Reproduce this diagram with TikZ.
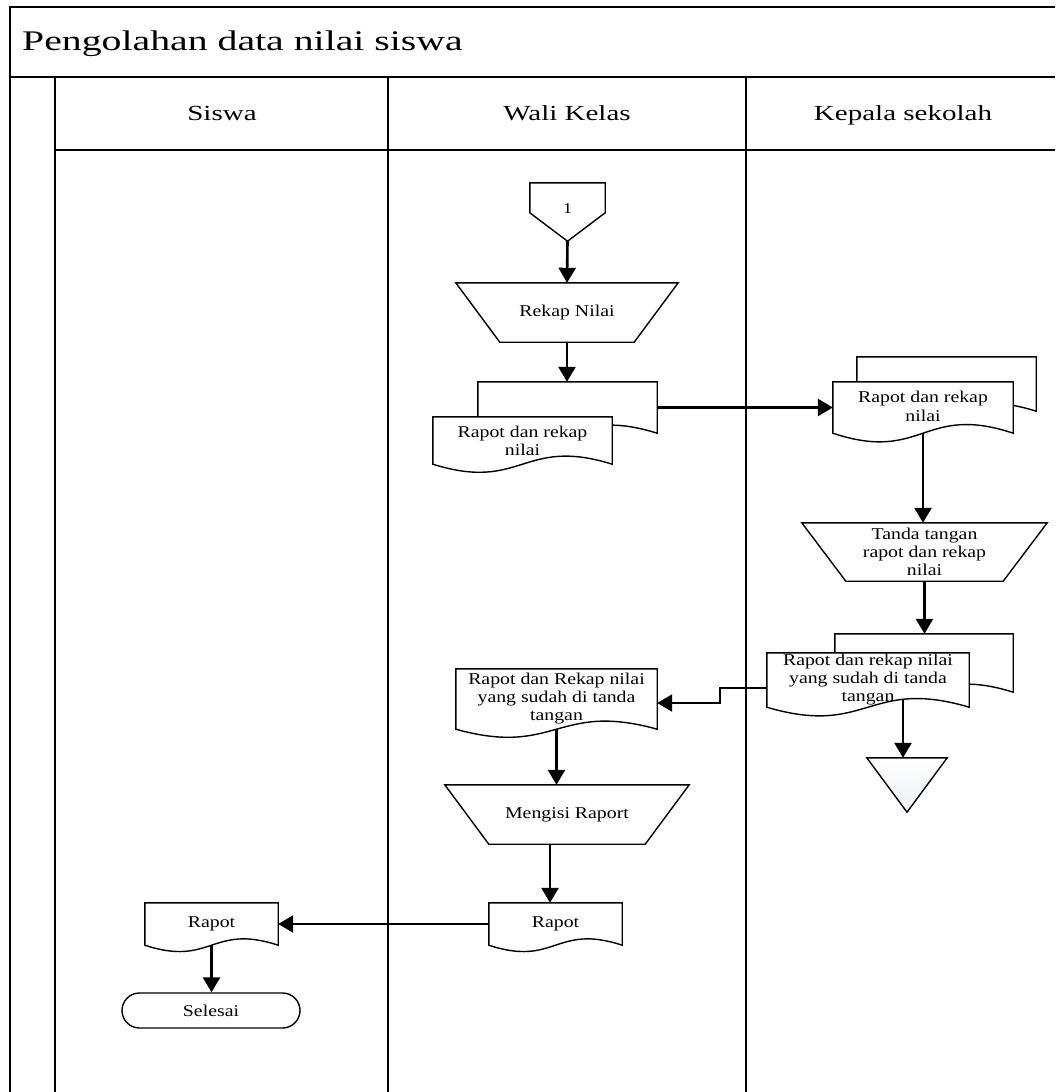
\documentclass[tikz,border=0pt]{standalone}
\usepackage{fontspec}
\setmainfont{Liberation Serif}[FakeStretch=1.2]
\newfontfamily\titlefont{Liberation Serif}[FakeStretch=1.4]
\newfontfamily\headfont{Liberation Serif}[FakeStretch=1.35]
\usetikzlibrary{arrows.meta,calc}
\pgfdeclarelayer{frame}
\pgfdeclarelayer{conn}
\pgfdeclarelayer{shapes}
\pgfsetlayers{frame,conn,shapes,main}
\newcommand\DocShape[2]{\draw[shp] (#1.north west) -- (#1.north east) -- (#1.south east) .. controls ($(#1.south)+(0,-#2)$) and ($(#1.south)+(0,#2)$) .. (#1.south west) -- cycle;}
\newcommand\TrapShape[2]{\draw[shp] (#1.north west) -- (#1.north east) -- ([xshift=-#2pt]#1.south east) -- ([xshift=#2pt]#1.south west) -- cycle;}
\newcommand\OffShape[2]{\draw[shp] (#1.north west) -- (#1.north east) -- ([yshift=-#2pt]#1.north east) -- (#1.south) -- ([yshift=-#2pt]#1.north west) -- cycle;}
\begin{document}
\begin{tikzpicture}[x=1pt,y=-1pt,
  frameline/.style={line width=1.5pt},
  laneline/.style={line width=2pt},
  shp/.style={draw=black, line width=1.4pt, fill=white, line join=miter},
  lbl/.style={inner sep=0pt, align=center, font=\fontsize{16.5}{18}\selectfont},
  head/.style={anchor=base, font=\headfont\fontsize{21.5}{24}\selectfont},
  flow/.style={line width=2.6pt, -{Triangle[length=15pt,width=17pt]}}]
\useasboundingbox (0,0) rectangle (1055,1092);

% ---------- frame ----------
\begin{pgfonlayer}{frame}
\fill[white] (0,0) rectangle (1055,1092);
\draw[frameline] (10,1092) -- (10,7) -- (1055,7);
\draw[frameline] (10,77) -- (1055,77);
\draw[laneline] (55,77) -- (55,1092);
\draw[frameline] (55,150) -- (1055,150);
\draw[laneline] (388,77) -- (388,1092);
\draw[laneline] (746,77) -- (746,1092);
\end{pgfonlayer}

\node[anchor=base west, inner sep=0pt, font=\titlefont\fontsize{28.4}{30}\selectfont] (title) at (22,50) {Pengolahan data nilai siswa};
\node[head] (h1) at (222,120) {Siswa};
\node[head] (h2) at (567,120) {Wali Kelas};
\node[head] (h3) at (903,120) {Kepala sekolah};

% ---------- nodes ----------
\node[inner sep=0pt, minimum width=75, minimum height=58, font=\fontsize{15}{17}\selectfont] (op) at (567.5,212) {\raisebox{7pt}{1}};
\node[lbl, minimum width=222, minimum height=59] (t1) at (567,312.5) {Rekap Nilai};
\node[lbl, minimum width=179, minimum height=51] (rk1b) at (567.5,407.5) {};
\node[lbl, minimum width=179, minimum height=47] (rk1) at (522.5,440.5) {Rapot dan rekap\\nilai};
\node[lbl, minimum width=179, minimum height=54] (rk2b) at (946.5,384) {};
\node[lbl, minimum width=180, minimum height=51] (rk2) at (923,407.5) {\raisebox{3pt}{\shortstack{Rapot dan rekap\\[1pt]nilai}}};
\node[lbl, minimum width=245, minimum height=58] (tt) at (924.5,552) {Tanda tangan\\rapot dan rekap\\nilai};
\node[lbl, minimum width=178, minimum height=58] (rk3b) at (924,663) {};
\node[lbl, minimum width=202, minimum height=54] (rk3) at (868,680) {Rapot dan rekap nilai\\yang sudah di tanda\\tangan};
\node[lbl, minimum width=80, minimum height=54] (endt) at (907,785) {};
\node[lbl, minimum width=201, minimum height=60] (rkt) at (556.5,699) {Rapot dan Rekap nilai\\yang sudah di tanda\\tangan};
\node[lbl, minimum width=244, minimum height=59] (mr) at (567,814.5) {Mengisi Raport};
\node[lbl, minimum width=133, minimum height=42] (rp1) at (555.5,924) {Rapot};
\node[lbl, minimum width=133, minimum height=42] (rp2) at (211.5,924) {Rapot};
\node[lbl, draw=black, line width=1.4pt, fill=white, rounded corners=17.5pt, minimum width=178, minimum height=35] (sel) at (211,1010.5) {Selesai};

% ---------- shapes ----------
\begin{pgfonlayer}{shapes}
\OffShape{op}{30}
\TrapShape{t1}{44}
\DocShape{rk1b}{28}
\DocShape{rk1}{28}
\DocShape{rk2b}{28}
\DocShape{rk2}{30}
\TrapShape{tt}{44}
\DocShape{rk3b}{28}
\DocShape{rk3}{30}
\draw[draw=black, line width=1.4pt, top color=white, bottom color={rgb,255:red,236;green,240;blue,248}] (endt.north west) -- (endt.north east) -- (endt.south) -- cycle;
\DocShape{rkt}{28}
\TrapShape{mr}{44}
\DocShape{rp1}{22}
\DocShape{rp2}{22}
\end{pgfonlayer}

% ---------- connectors ----------
\begin{pgfonlayer}{conn}
\draw[flow] (op.south) -- (t1.north);
\draw[flow] (t1.south) -- (t1.south |- rk1b.north);
\draw[flow] (rk1b.east) -- (rk2.west);
\draw[flow] (rk2.center) -- (rk2.center |- tt.north);
\draw[flow] (tt.south) -- (tt.south |- rk3b.north);
\draw[flow] ([xshift=-4pt]endt.north |- rk3.center) -- ([xshift=-4pt]endt.north);
\draw[flow] ([yshift=-8pt]rk3.west) -- ++(-47,0) |- ([yshift=-4pt]rkt.east);
\draw[flow] (rkt.center) -- (rkt.center |- mr.north);
\draw[flow] ([xshift=-17pt]mr.south) -- ([xshift=-17pt]mr.south |- rp1.north);
\draw[flow] (rp1.west) -- (rp2.east);
\draw[flow] (rp2.center) -- (rp2.center |- sel.north);
\end{pgfonlayer}
\end{tikzpicture}
\end{document}
